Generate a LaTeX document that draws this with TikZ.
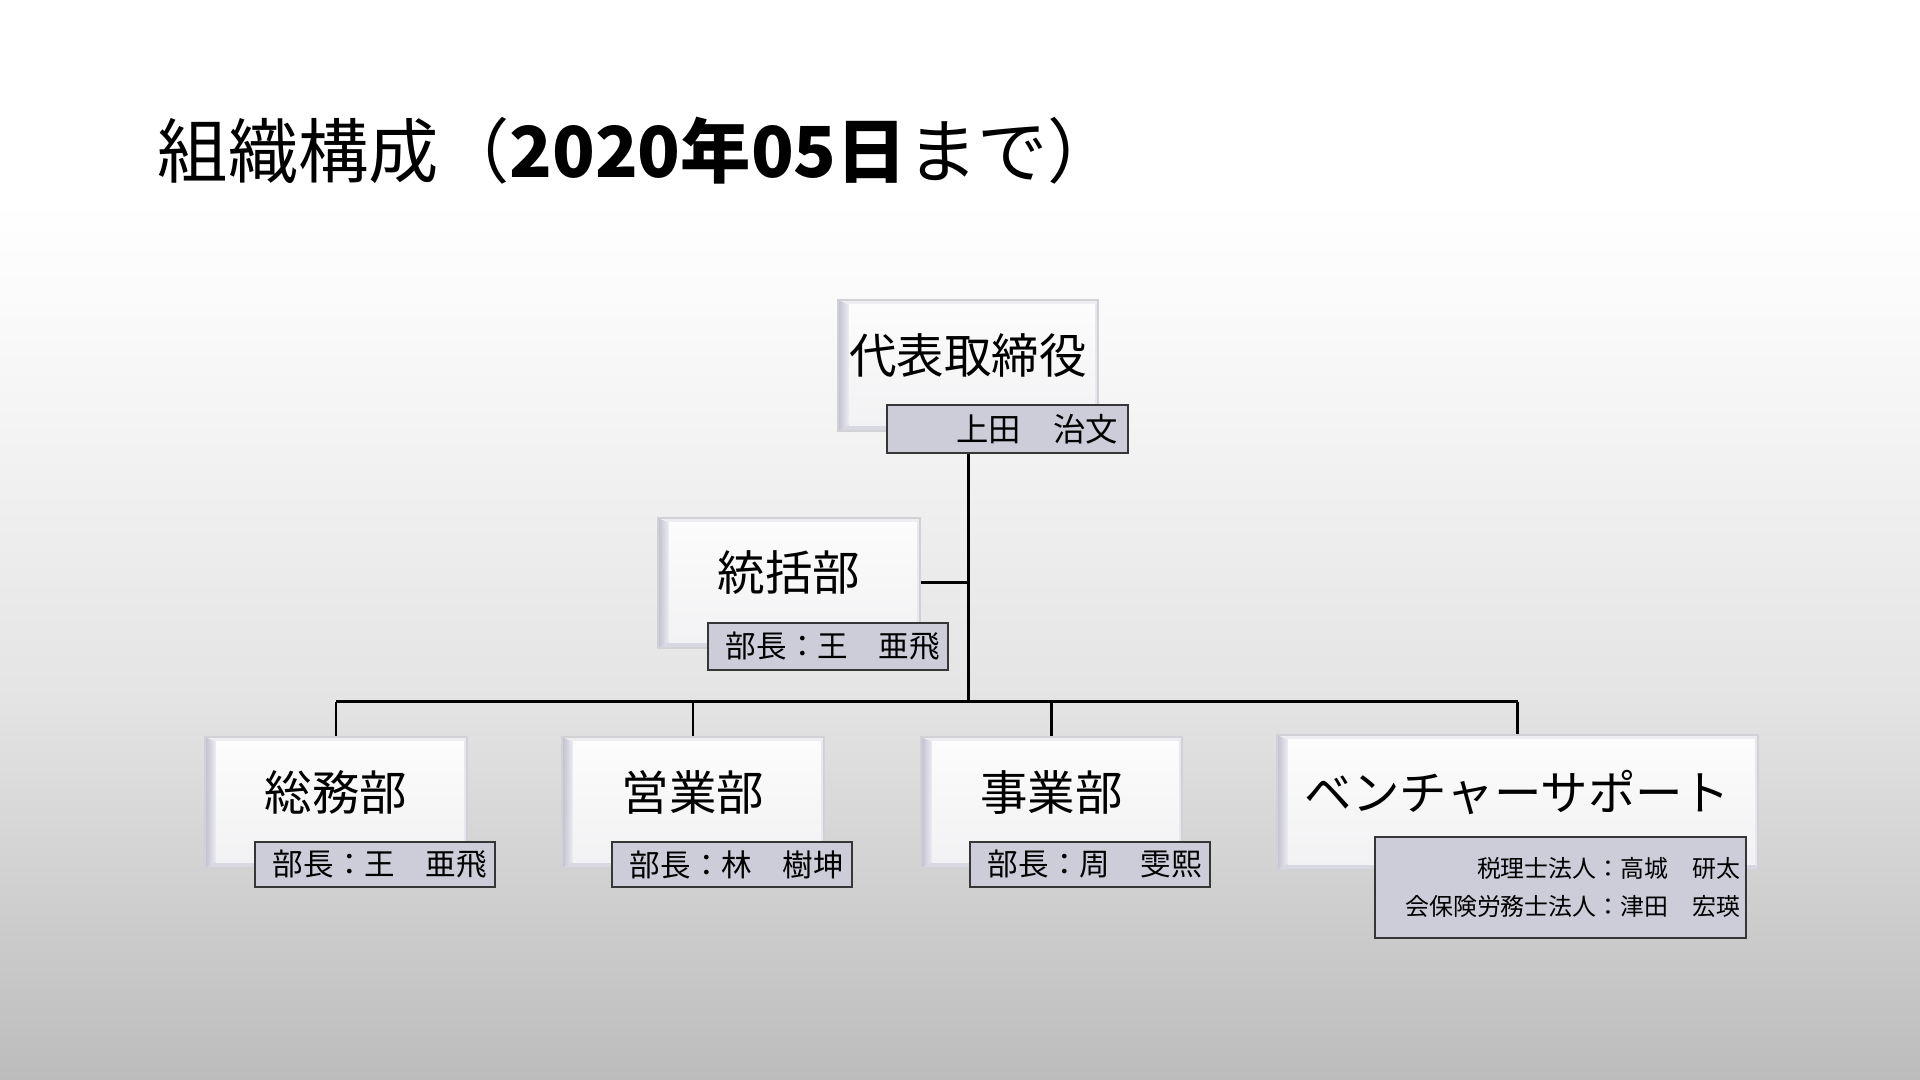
\documentclass[tikz,border=0pt]{standalone}
\usepackage{fontspec}
\setmainfont{Noto Sans CJK JP}
\definecolor{bgmid}{HTML}{F8F8F8}
\definecolor{bglow}{HTML}{E4E4E4}
\definecolor{bgbottom}{HTML}{BCBCBC}
\definecolor{boxline}{HTML}{D2D2D6}
\definecolor{bevelfill}{HTML}{E6E6EC}
\definecolor{beveldark}{HTML}{C0C0D0}
\definecolor{bevellight}{HTML}{ECECF2}
\definecolor{bevelbottom}{HTML}{D8D8E2}
\definecolor{beveltop}{HTML}{EEEEF2}
\definecolor{facetop}{HTML}{FCFCFC}
\definecolor{facebottom}{HTML}{F2F2F4}
\definecolor{namefill}{HTML}{CDCCD9}
\definecolor{nameline}{HTML}{363636}

\tikzset{
  x=0.01cm, y=-0.01cm,
  mainbox/.style={rectangle, draw=boxline, line width=0.4pt, fill=bevelfill, inner sep=0pt,
    path picture={
      \coordinate (nw) at (path picture bounding box.north west);
      \coordinate (ne) at (path picture bounding box.north east);
      \coordinate (sw) at (path picture bounding box.south west);
      \coordinate (se) at (path picture bounding box.south east);
      \fill[beveltop] (nw) -- (ne) -- ([shift={(-0.03cm,-0.05cm)}]ne) -- ([shift={(0.11cm,-0.05cm)}]nw) -- cycle;
      \fill[bevelbottom] (sw) -- ([shift={(0.11cm,0.06cm)}]sw) -- ([shift={(-0.03cm,0.06cm)}]se) -- (se) -- cycle;
      \shade[left color=beveldark, right color=bevellight] (nw) -- ([shift={(0.11cm,-0.05cm)}]nw) -- ([shift={(0.11cm,0.06cm)}]sw) -- (sw) -- cycle;
      \shade[top color=facetop, bottom color=facebottom] ([shift={(0.11cm,-0.05cm)}]nw) rectangle ([shift={(-0.03cm,0.06cm)}]se);
    }},
  boxtext/.style={inner sep=0pt, font=\fontsize{13.5}{16}\selectfont},
  namebox/.style={rectangle, draw=nameline, fill=namefill, line width=0.75pt, inner xsep=0.08cm, inner ysep=0pt,
    align=right, font=\fontsize{8.7}{10.5}\selectfont},
  wire/.style={draw=black, line width=0.85pt},
}

\begin{document}
\begin{tikzpicture}
  % page and background
  \useasboundingbox (0,0) rectangle (1920,1080);
  \fill[white] (0,0) rectangle (1920,200);
  \shade[top color=white, bottom color=bgmid] (0,199) rectangle (1920,350);
  \shade[top color=bgmid, bottom color=bglow] (0,349) rectangle (1920,700);
  \shade[top color=bglow, bottom color=bgbottom] (0,699) rectangle (1920,1080);

  % title
  \node[anchor=west, inner sep=0pt, font=\fontsize{20}{24}\selectfont] (title) at (157,151)
    {組織構成（\textbf{2020年05日}まで）};

  % unit frames
  \node[mainbox, minimum width=2.60cm, minimum height=1.31cm] (ceo) at (968,365.5) {};
  \node[mainbox, minimum width=2.62cm, minimum height=1.30cm] (tok) at (789,583) {};
  \node[mainbox, minimum width=2.62cm, minimum height=1.31cm] (sou) at (336,802.5) {};
  \node[mainbox, minimum width=2.62cm, minimum height=1.31cm] (eig) at (693,802.5) {};
  \node[mainbox, minimum width=2.61cm, minimum height=1.31cm] (jig) at (1051.5,802.5) {};
  \node[mainbox, minimum width=4.81cm, minimum height=1.35cm] (ven) at (1517.5,802.5) {};

  % connectors
  \coordinate (bus) at (968,702);
  \draw[wire] (ceo.south) -- (bus);
  \draw[wire] (tok.east) -- (tok.east -| bus);
  \draw[wire] (sou.north |- bus) -- (ven.north |- bus);
  \draw[wire] (sou.north |- bus) -- (sou.north);
  \draw[wire] (eig.north |- bus) -- (eig.north);
  \draw[wire] (jig.north |- bus) -- (jig.north);
  \draw[wire] (ven.north |- bus) -- (ven.north);

  % unit names
  \node[boxtext] (ceo-t) at (968,355.5) {代表取締役};
  \node[boxtext] (tok-t) at (789,573) {統括部};
  \node[boxtext] (sou-t) at (336,792.5) {総務部};
  \node[boxtext] (eig-t) at (693,792.5) {営業部};
  \node[boxtext] (jig-t) at (1051.5,792.5) {事業部};
  \node[boxtext] (ven-t) at (1517.5,792.5) {ベンチャーサポート};

  % people in charge
  \node[namebox, text width=2.21cm, minimum height=0.48cm, inner xsep=0.1cm,
        font=\fontsize{9.2}{11}\selectfont] (ceo-n) at (1007.5,429) {上田　治文};
  \node[namebox, text width=2.24cm, minimum height=0.47cm] (tok-n) at (828,646.5) {部長：王　亜飛};
  \node[namebox, text width=2.24cm, minimum height=0.45cm] (sou-n) at (375,864.5) {部長：王　亜飛};
  \node[namebox, text width=2.24cm, minimum height=0.45cm] (eig-n) at (732,864.5) {部長：林　樹坤};
  \node[namebox, text width=2.24cm, minimum height=0.45cm] (jig-n) at (1090,864.5) {部長：周　雯熙};
  \node[namebox, text width=3.59cm, minimum height=1.01cm, inner xsep=0.06cm,
        font=\fontsize{6.8}{10.8}\selectfont] (ven-n) at (1560.5,887.5)
    {税理士法人：高城　研太\\会保険労務士法人：津田　宏瑛};
\end{tikzpicture}
\end{document}
